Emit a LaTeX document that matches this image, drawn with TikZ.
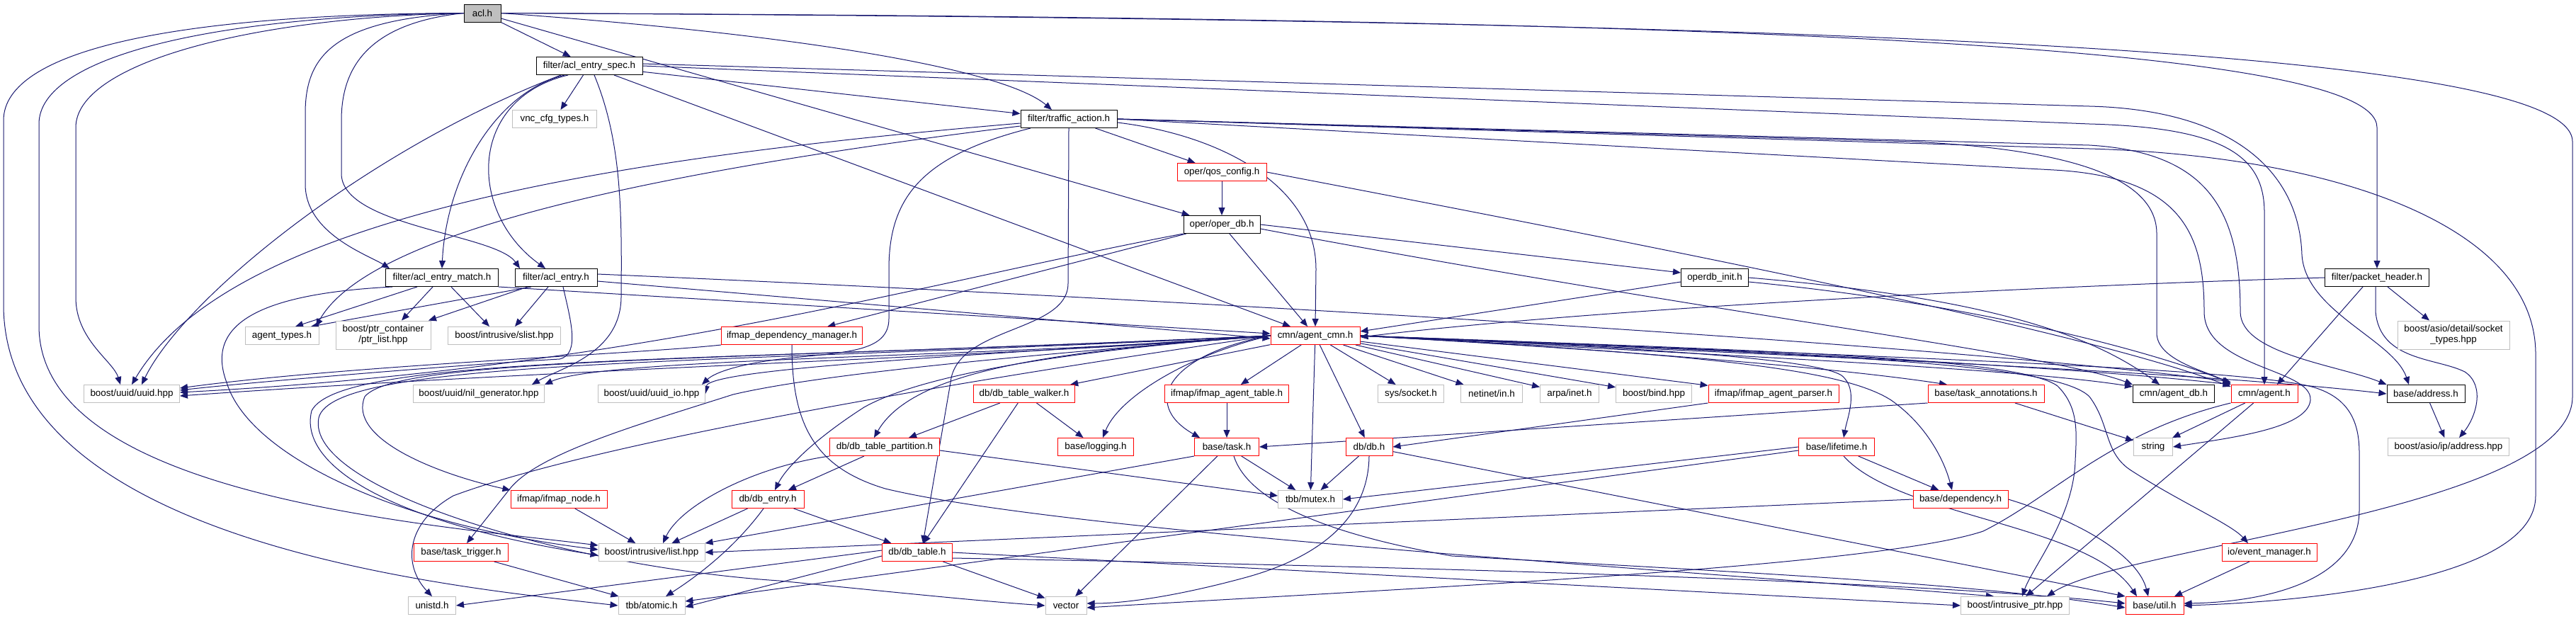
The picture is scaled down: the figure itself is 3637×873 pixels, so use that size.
\documentclass[tikz,border=0pt]{standalone}
\usepackage{fontspec}
\setmainfont{Liberation Sans}
\usetikzlibrary{arrows.meta}
\definecolor{edgec}{HTML}{191970}
\definecolor{redc}{HTML}{FF0000}
\definecolor{grayc}{HTML}{BFBFBF}
\newcommand{\nodefont}{\fontsize{13.4}{15}\selectfont}
\pgfdeclarelayer{back}
\pgfdeclarelayer{bg}
\pgfsetlayers{back,bg,main}
\begin{document}
\begin{tikzpicture}[x=1pt,y=-1pt,
  box/.style={rectangle, minimum height=25pt, inner xsep=0pt, inner ysep=0pt, font=\nodefont, line width=1pt, align=center, fill=white},
  kbox/.style={box, draw=black},
  rbox/.style={box, draw=redc},
  gbox/.style={box, draw=grayc},
  e/.style={draw=edgec, line width=1pt, -{Triangle[length=11pt,width=9pt]}},
]
\begin{pgfonlayer}{back}
\fill[white] (0,0) rectangle (3637,873);
\end{pgfonlayer}
\useasboundingbox (0,0) rectangle (3637,873);

% row 0-5
\node[kbox, fill=grayc, minimum width=52] (acl) at (681,18.5) {acl.h};
\node[kbox, minimum width=150] (spec) at (832,93) {filter/acl\_entry\_spec.h};
\node[gbox, minimum width=119] (vnc) at (783,168) {vnc\_cfg\_types.h};
\node[kbox, minimum width=136] (ta) at (1509,168) {filter/traffic\_action.h};
\node[rbox, minimum width=126] (qos) at (1725,243) {oper/qos\_config.h};
\node[kbox, minimum width=108] (operdb) at (1725,317) {oper/oper\_db.h};
\node[kbox, minimum width=159] (match) at (624,392) {filter/acl\_entry\_match.h};
\node[kbox, minimum width=116] (entry) at (785,392) {filter/acl\_entry.h};
\node[kbox, minimum width=95] (odbinit) at (2421,392) {operdb\_init.h};
\node[kbox, minimum width=147] (pkthdr) at (3356,392) {filter/packet\_header.h};
% row 6
\node[gbox, minimum width=104] (agtypes) at (398,474) {agent\_types.h};
\node[gbox, minimum width=134, minimum height=40pt] (ptrlist) at (541,473) {boost/ptr\_container\\/ptr\_list.hpp};
\node[gbox, minimum width=159] (slist) at (712,474) {boost/intrusive/slist.hpp};
\node[rbox, minimum width=199] (ifdep) at (1118,474) {ifmap\_dependency\_manager.h};
\node[rbox, minimum width=126] (cmn) at (1857,474) {cmn/agent\_cmn.h};
\node[gbox, minimum width=158, minimum height=40pt] (socktypes) at (3464,473) {boost/asio/detail/socket\\\_types.hpp};
% row 7
\node[gbox, minimum width=135] (uuid) at (186,556) {boost/uuid/uuid.hpp};
\node[gbox, minimum width=185] (nilgen) at (676,556) {boost/uuid/nil\_generator.hpp};
\node[gbox, minimum width=151] (uuidio) at (920,556) {boost/uuid/uuid\_io.hpp};
\node[rbox, minimum width=143] (walker) at (1446,556) {db/db\_table\_walker.h};
\node[rbox, minimum width=175] (iftable) at (1732,556) {ifmap/ifmap\_agent\_table.h};
\node[gbox, minimum width=93] (socket) at (1992,556) {sys/socket.h};
\node[gbox, minimum width=87] (netin) at (2106,556) {netinet/in.h};
\node[gbox, minimum width=83] (arpa) at (2216,556) {arpa/inet.h};
\node[gbox, minimum width=107] (bind) at (2335,556) {boost/bind.hpp};
\node[rbox, minimum width=184] (parser) at (2504,556) {ifmap/ifmap\_agent\_parser.h};
\node[rbox, minimum width=164] (annot) at (2804,556) {base/task\_annotations.h};
\node[kbox, minimum width=115] (agentdb) at (3069,556) {cmn/agent\_db.h};
\node[rbox, minimum width=94] (agent) at (3197,556) {cmn/agent.h};
\node[kbox, minimum width=110] (address) at (3425,556) {base/address.h};
% row 8
\node[rbox, minimum width=155] (partition) at (1249,631) {db/db\_table\_partition.h};
\node[rbox, minimum width=107] (logging) at (1547,631) {base/logging.h};
\node[rbox, minimum width=91] (task) at (1732,631) {base/task.h};
\node[rbox, minimum width=66] (db) at (1933,631) {db/db.h};
\node[rbox, minimum width=107] (lifetime) at (2593,631) {base/lifetime.h};
\node[gbox, minimum width=55] (string) at (3040,631) {string};
\node[gbox, minimum width=171] (ipaddr) at (3457,631) {boost/asio/ip/address.hpp};
% row 9
\node[rbox, minimum width=136] (ifnode) at (789,705) {ifmap/ifmap\_node.h};
\node[rbox, minimum width=102] (dbentry) at (1084,705) {db/db\_entry.h};
\node[gbox, minimum width=91] (mutex) at (1850,705) {tbb/mutex.h};
\node[rbox, minimum width=134] (dep) at (2768,705) {base/dependency.h};
% row 10
\node[rbox, minimum width=133] (trigger) at (651,780) {base/task\_trigger.h};
\node[gbox, minimum width=150] (ilist) at (920,780) {boost/intrusive/list.hpp};
\node[rbox, minimum width=99] (dbtable) at (1295,780) {db/db\_table.h};
\node[rbox, minimum width=134] (evmgr) at (3204,780) {io/event\_manager.h};
% row 11
\node[gbox, minimum width=67] (unistd) at (610,855) {unistd.h};
\node[gbox, minimum width=94] (atomic) at (920,855) {tbb/atomic.h};
\node[gbox, minimum width=58] (vector) at (1505,855) {vector};
\node[gbox, minimum width=153] (iptr) at (2845,855) {boost/intrusive\_ptr.hpp};
\node[rbox, minimum width=82] (util) at (3042,855) {base/util.h};

\begin{pgfonlayer}{bg}
% acl
\draw[e] (acl) -- (spec);
\draw[e] (acl.east) .. controls (1150,50) and (1420,100) .. ([xshift=-24]ta.north);
\draw[e] (acl) -- (operdb);
\draw[e] (acl.west) .. controls (470,28) and (431,80) .. (431,160) -- (431,260) .. controls (431,330) and (520,360) .. ([xshift=-74]match.north);
\draw[e] (acl.west) .. controls (520,33) and (482,95) .. (482,170) -- (482,245) .. controls (482,320) and (700,330) .. ([xshift=-51]entry.north);
\draw[e] (acl.west) .. controls (250,20) and (5,70) .. (5,170) -- (5,430) .. controls (5,770) and (650,830) .. (atomic.west);
\draw[e] (acl.west) .. controls (300,22) and (55,80) .. (55,175) -- (55,460) .. controls (55,700) and (600,740) .. ([yshift=10]ilist.west);
\draw[e] (acl.west) .. controls (350,25) and (107,90) .. (107,180) -- (107,420) .. controls (107,480) and (160,510) .. ([xshift=-16]uuid.north);
\draw[e] (acl.east) .. controls (2400,25) and (3356,60) .. (3356,180) -- (pkthdr.north);
\draw[e] (acl.east) .. controls (2600,28) and (3632,70) .. (3632,200) -- (3632,560) .. controls (3632,720) and (3000,770) .. ([xshift=45]iptr.north);
% spec
\draw[e] (spec) -- (vnc);
\draw[e] (spec) -- (ta);
\draw[e] ([xshift=-35]spec.south) .. controls (700,130) and (630,250) .. (match.north);
\draw[e] ([xshift=-30]spec.south) .. controls (660,140) and (660,300) .. ([xshift=-15]entry.north);
\draw[e] ([xshift=-40]spec.south) .. controls (520,210) and (260,420) .. ([xshift=14]uuid.north);
\draw[e] (spec) -- (cmn);
\draw[e] ([yshift=3]spec.east) -- (2950,150) .. controls (3150,155) and (3246,240) .. (3250,360) .. controls (3255,440) and (3380,480) .. ([xshift=-24]address.north);
\draw[e] (spec.east) -- (2950,175) .. controls (3140,180) and (3197,220) .. (3197,300) -- (agent.north);
\draw[e] ([xshift=7]spec.south) .. controls (878,200) and (878,300) .. (877,420) .. controls (876,500) and (790,520) .. ([xshift=-18]nilgen.north east);
% ta
\draw[e] (ta) -- (qos);
\draw[e] ([yshift=-5]ta.east) .. controls (1720,190) and (1858,260) .. (1858,380) -- (cmn.north);
\draw[e] (ta.east) -- (2700,200) .. controls (2950,212) and (3045,260) .. (3045,330) -- (3045,470) .. controls (3045,510) and (3120,525) .. (agent.north west);
\draw[e] (ta.east) -- (2950,205) .. controls (3120,215) and (3163,300) .. (3163,440) .. controls (3163,500) and (3300,515) .. (address.north west);
\draw[e] (ta.east) -- (2950,210) .. controls (3300,220) and (3580,320) .. (3580,500) -- (3580,700) .. controls (3580,820) and (3250,850) .. (util.east);
\draw[e] (ta.east) -- (2900,240) .. controls (3080,250) and (3112,330) .. (3112,440) .. controls (3112,520) and (3265,520) .. (3262,565) .. controls (3258,605) and (3150,618) .. (string.east);
\draw[e] ([yshift=-6]ta.west) .. controls (900,220) and (330,300) .. (uuid.north);
\draw[e] ([yshift=-10]ta.west) .. controls (900,245) and (520,330) .. ([xshift=48]agtypes.north);
\draw[e] ([xshift=-54]ta.south) .. controls (1300,220) and (1255,280) .. (1255,380) -- (1255,450) .. controls (1255,495) and (1200,497) .. (1120,505) .. controls (1050,512) and (1010,525) .. ([xshift=-5]uuidio.north east);
\draw[e] (ta.south) -- (1508,400) .. controls (1508,470) and (1350,460) .. (1342,540) -- ([xshift=8]dbtable.north);
% qos
\draw[e] (qos) -- (operdb);
\draw[e] (qos.east) .. controls (2400,360) and (2950,470) .. ([yshift=-3]agent.north west);
% operdb
\draw[e] (operdb.east) -- ([yshift=7]odbinit.west);
\draw[e] ([yshift=-6]operdb.east) .. controls (2400,440) and (2900,500) .. (agentdb.north west);
\draw[e] (operdb) -- (cmn);
\draw[e] (operdb) -- (ifdep);
\draw[e] (operdb.south west) .. controls (1300,400) and (900,520) .. ([yshift=2]uuid.east);
% odbinit
\draw[e] ([yshift=-6]odbinit.west) -- ([yshift=6]cmn.east);
\draw[e] (odbinit.east) .. controls (2800,420) and (2950,470) .. ([xshift=-20]agentdb.north);
\draw[e] ([yshift=-6]odbinit.east) .. controls (2800,430) and (3050,500) .. ([yshift=2]agent.north west);
% pkthdr
\draw[e] (pkthdr.west) .. controls (3000,400) and (2300,430) .. ([yshift=-2]cmn.east);
\draw[e] ([xshift=-20]pkthdr.south) -- ([xshift=18]agent.north);
\draw[e] ([xshift=15]pkthdr.south) -- ([xshift=-34]socktypes.north);
\draw[e] ([xshift=-2]pkthdr.south) -- (3354,440) .. controls (3360,510) and (3440,505) .. (3480,525) .. controls (3510,545) and (3495,590) .. ([xshift=15]ipaddr.north);
% address / agent / annot / parser / iftable
\draw[e] (address) -- (ipaddr);
\draw[e] (agent) -- (string);
\draw[e] (agent) -- (iptr);
\draw[e] (agent.south west) .. controls (2980,610) and (2900,700) .. (2800,750) .. controls (2650,800) and (2000,830) .. ([yshift=-3]vector.east);
\draw[e] (annot) -- (string);
\draw[e] (annot.south west) -- (task.east);
\draw[e] (parser.south west) -- (db.east);
\draw[e] (iftable) -- (task);
% walker / partition
\draw[e] (walker) -- (partition);
\draw[e] (walker) -- (logging);
\draw[e] (walker) -- (dbtable);
\draw[e] (partition) -- (dbentry);
\draw[e] (partition.south west) .. controls (1060,660) and (960,715) .. ([xshift=16]ilist.north);
\draw[e] ([yshift=-5]partition.east) -- ([yshift=5]mutex.west);
% task
\draw[e] (task) -- (vector);
\draw[e] (task) -- (mutex);
\draw[e] (task.south west) -- (ilist.north east);
\draw[e] ([xshift=10]task.south) .. controls (1760,700) and (1850,750) .. (2050,785) .. controls (2500,810) and (2800,825) .. ([yshift=-3]util.west);
% db
\draw[e] (db) -- (mutex);
\draw[e] (db.south) .. controls (1932,740) and (1850,790) .. (1760,815) .. controls (1650,845) and (1580,852) .. ([yshift=3]vector.east);
\draw[e] (db) -- (util.north west);
% lifetime / dep / evmgr
\draw[e] (lifetime.west) -- (mutex.east);
\draw[e] ([yshift=-5]lifetime.west) -- ([yshift=6]atomic.east);
\draw[e] (lifetime) -- (dep);
\draw[e] ([xshift=10]lifetime.south) .. controls (2680,730) and (2950,740) .. ([xshift=-25]util.north);
\draw[e] (dep.west) -- (ilist.east);
\draw[e] (dep.east) .. controls (2950,740) and (3020,790) .. ([xshift=-9]util.north);
\draw[e] (evmgr) -- (util);
% dbentry / ifnode / trigger / dbtable
\draw[e] (dbentry) -- (ilist);
\draw[e] ([xshift=-6]dbentry.south) .. controls (1040,770) and (990,810) .. ([xshift=20]atomic.north);
\draw[e] (dbentry) -- (dbtable);
\draw[e] (ifnode) -- (ilist);
\draw[e] (trigger) -- (atomic);
\draw[e] (dbtable) -- (vector);
\draw[e] ([yshift=-5]dbtable.west) -- ([yshift=-2]atomic.east);
\draw[e] ([yshift=3]dbtable.west) -- (unistd.east);
\draw[e] (dbtable.east) -- (iptr.west);
\draw[e] ([yshift=-8]dbtable.east) .. controls (2000,800) and (2700,820) .. ([yshift=3]util.west);
% match / entry
\draw[e] ([xshift=-35]match.south) -- ([xshift=19]agtypes.north);
\draw[e] ([xshift=-13]match.south) -- ([xshift=26]ptrlist.north);
\draw[e] ([xshift=13]match.south) -- ([xshift=-21]slist.north);
\draw[e] (match.south east) -- ([yshift=3]cmn.west);
\draw[e] ([xshift=-70]match.south) .. controls (360,415) and (290,460) .. (320,540) .. controls (350,640) and (550,740) .. ([yshift=4]ilist.west);
\draw[e] ([xshift=-35]entry.south) -- ([xshift=41]agtypes.north);
\draw[e] ([xshift=-40]entry.south) -- ([xshift=64]ptrlist.north);
\draw[e] ([xshift=-11]entry.south) -- ([xshift=15]slist.north);
\draw[e] ([yshift=-5]entry.east) -- ([yshift=-4]cmn.west);
\draw[e] ([yshift=5]entry.east) .. controls (1500,415) and (2700,480) .. ([yshift=4]agent.north west);
\draw[e] ([xshift=10]entry.south) .. controls (805,450) and (820,500) .. (790,507) .. controls (650,515) and (350,540) .. ([yshift=5]uuid.east);
% ifdep
\draw[e] (ifdep.south west) .. controls (900,500) and (500,515) .. ([yshift=8]uuid.east);
\draw[e] (ifdep.south) .. controls (1118,600) and (1150,660) .. (1250,690) .. controls (1500,750) and (2300,800) .. ([xshift=-30]iptr.north);
% cmn fan-out
\draw[e] (cmn.west) .. controls (1500,500) and (800,520) .. ([yshift=-3]uuid.east);
\draw[e] (cmn.west) .. controls (1400,505) and (850,505) .. (nilgen.north east);
\draw[e] (cmn.west) .. controls (1400,500) and (1000,520) .. (uuidio.east);
\draw[e] (cmn) -- (walker);
\draw[e] (cmn) -- (iftable);
\draw[e] (cmn.west) .. controls (1650,500) and (1610,570) .. ([xshift=-38]task.north);
\draw[e] (cmn.west) .. controls (1680,500) and (1580,560) .. ([xshift=10]logging.north);
\draw[e] (cmn.west) .. controls (1500,495) and (1290,520) .. ([xshift=-15]partition.north);
\draw[e] (cmn) -- (socket);
\draw[e] (cmn) -- (netin);
\draw[e] (cmn) -- (arpa);
\draw[e] (cmn) -- (bind);
\draw[e] (cmn) -- (parser);
\draw[e] (cmn.east) .. controls (2300,495) and (2600,520) .. ([xshift=-55]annot.north);
\draw[e] (cmn.east) .. controls (2400,500) and (2850,520) .. ([yshift=-3]agentdb.north west);
\draw[e] (cmn.east) .. controls (2500,495) and (2950,520) .. (agent.north west);
\draw[e] (cmn.east) .. controls (2600,505) and (3100,525) .. (address.west);
\draw[e] (cmn) -- (db);
\draw[e] (cmn) -- (mutex);
\draw[e] (cmn.east) .. controls (2300,490) and (2560,505) .. (2600,530) .. controls (2625,550) and (2608,590) .. ([xshift=10]lifetime.north);
\draw[e] (cmn.east) .. controls (2400,500) and (2600,520) .. (2670,565) .. controls (2720,600) and (2745,650) .. ([xshift=-12]dep.north);
\draw[e] (cmn.east) .. controls (2500,495) and (2850,505) .. (2905,545) .. controls (2935,575) and (2932,610) .. (2930,650) .. controls (2928,730) and (2870,800) .. ([xshift=10]iptr.north);
\draw[e] (cmn.east) .. controls (2550,500) and (2900,510) .. (2950,560) .. controls (2980,600) and (2970,640) .. (3010,665) .. controls (3080,710) and (3150,740) .. ([xshift=-30]evmgr.north);
\draw[e] (cmn.east) .. controls (2700,505) and (3150,520) .. (3260,545) .. controls (3320,560) and (3331,600) .. (3331,640) -- (3331,720) .. controls (3331,820) and (3200,850) .. ([yshift=3]util.east);
\draw[e] (cmn.west) .. controls (1500,495) and (1300,530) .. (1220,575) .. controls (1150,620) and (1110,660) .. ([xshift=10]dbentry.north);
\draw[e] (cmn.west) .. controls (1400,505) and (1150,530) .. (1035,557) .. controls (900,600) and (760,640) .. (720,690) -- ([xshift=8]trigger.north);
\draw[e] (cmn.west) .. controls (1000,510) and (560,505) .. (515,560) .. controls (490,620) and (620,670) .. (ifnode.north west);
\draw[e] (cmn.west) .. controls (1000,512) and (480,500) .. (440,580) .. controls (420,660) and (560,740) .. ([yshift=-4]ilist.west);
\draw[e] (cmn.west) .. controls (1200,560) and (800,640) .. (640,700) .. controls (570,740) and (570,800) .. (unistd.north);
\draw[e] (cmn.west) .. controls (1000,515) and (470,505) .. (450,590) .. controls (430,690) and (800,800) .. (1100,820) .. controls (1300,840) and (1400,850) .. (vector.west);
\end{pgfonlayer}
\end{tikzpicture}
\end{document}
